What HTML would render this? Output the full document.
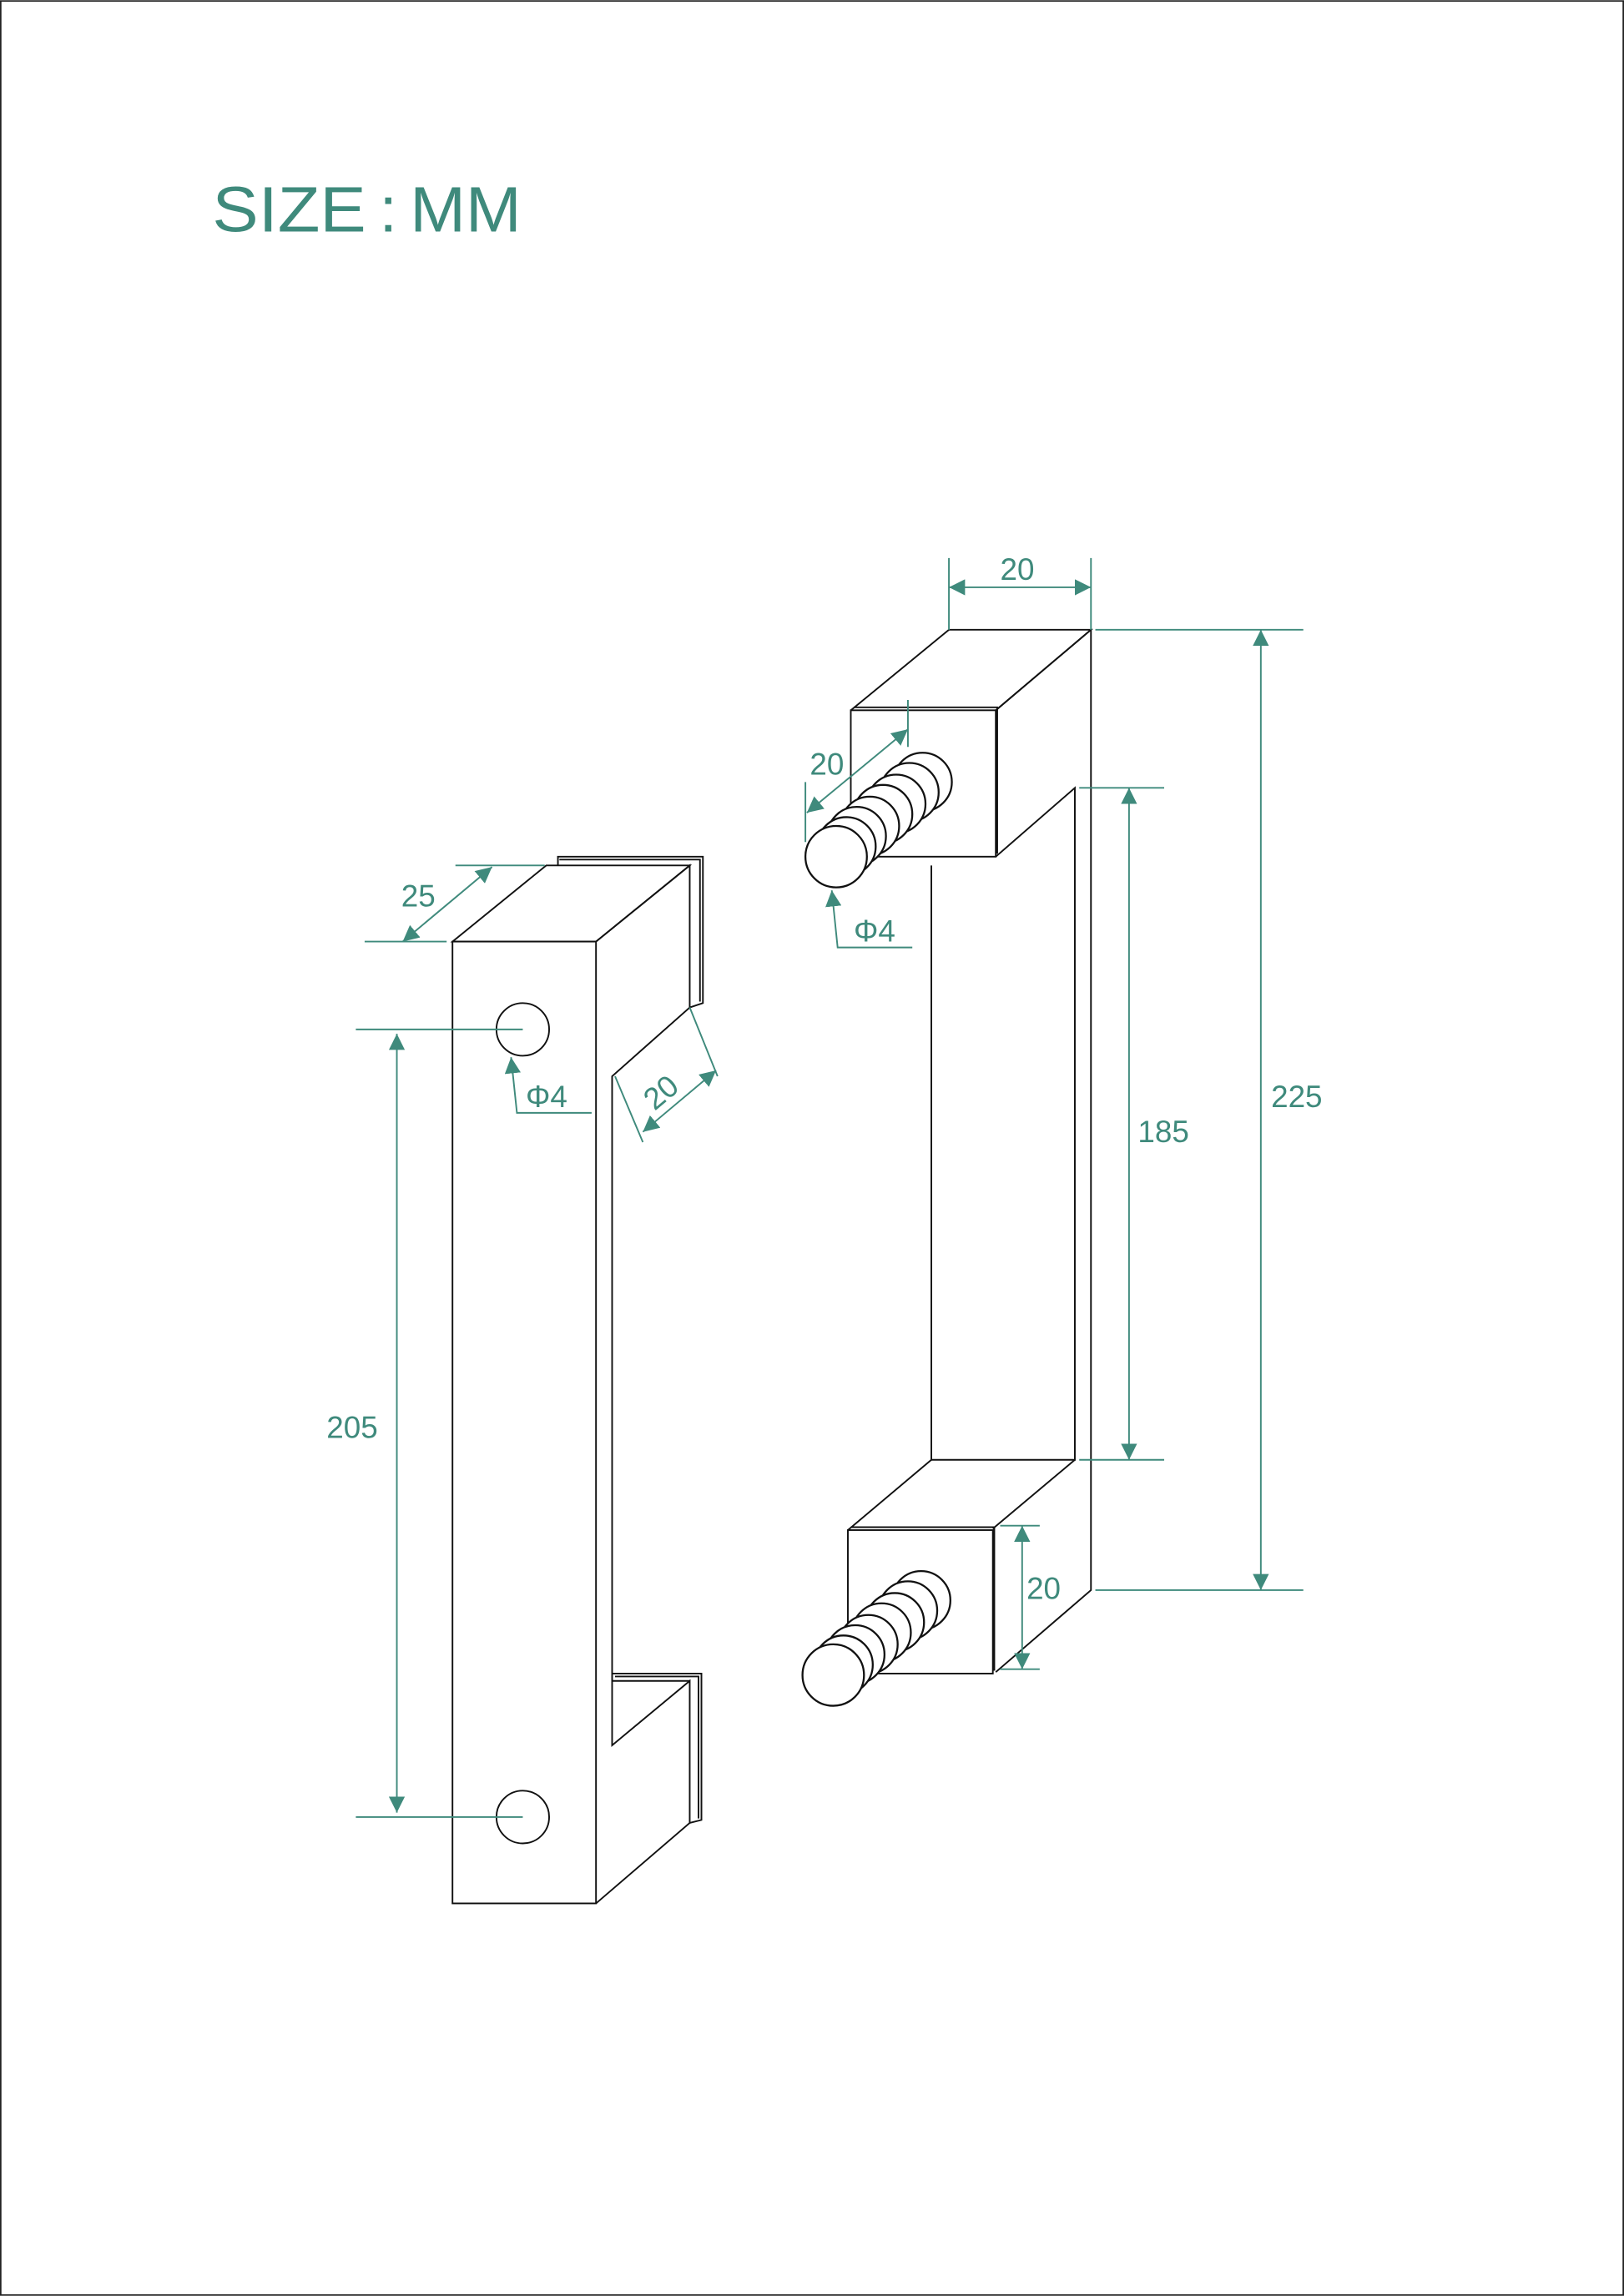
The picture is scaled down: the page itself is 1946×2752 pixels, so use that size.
<!DOCTYPE html>
<html><head><meta charset="utf-8"><style>
html,body{margin:0;padding:0;background:#fff}
svg{display:block}
text{font-family:"Liberation Sans",sans-serif;fill:#3f8a7c}
</style></head><body>
<svg width="1946" height="2752" viewBox="0 0 1109 1568" xmlns="http://www.w3.org/2000/svg">
<defs>
<marker id="a" viewBox="0 0 10 10" refX="10" refY="5" markerWidth="11" markerHeight="11" markerUnits="userSpaceOnUse" orient="auto-start-reverse"><path d="M0,0 L10,5 L0,10 z" fill="#3f8a7c"/></marker>
</defs>
<rect x="0.5" y="0.5" width="1108" height="1567" fill="#fff" stroke="#222" stroke-width="1"/>
<text x="145" y="158" font-size="44" textLength="105" lengthAdjust="spacingAndGlyphs">SIZE</text>
<text x="259" y="158" font-size="44">:</text>
<text x="280" y="158" font-size="44" textLength="76" lengthAdjust="spacingAndGlyphs">MM</text>

<g fill="none" stroke="#111" stroke-width="1.1">
<path d="M381,591 V585 H480 V685 L471,688"/>
<path d="M382,587 H478 V684"/>
<path d="M418,1148 V1143 H479 V1243 L471,1245"/>
<path d="M420,1145 H477 V1242"/>
<path fill="#fff" d="M309,643 L373,591 H471 L407,643 Z"/>
<rect x="309" y="643" width="98" height="657" fill="#fff"/>
<path d="M407,643 L471,591 V688 L418,735 V1192 L471,1148 V1245 L407,1300"/>
<path d="M418,1148 H471"/>
<circle cx="357" cy="703" r="18"/>
<circle cx="357" cy="1241" r="18"/>

<path d="M581,485 L648,430 H745 L680,485"/>
<path d="M583,483 H681 V583"/>
<rect x="581" y="485" width="99" height="100" fill="#fff"/>
<path d="M680,485 L745,430 V1086 L680,1142"/>
<path d="M680,585 L734,538 V997 H636 V591"/>
<path d="M579,1045 L636,997 M678,1044 L734,997"/>
<path d="M581,1043 H679 V1141"/>
<rect x="579" y="1045" width="99" height="98" fill="#fff"/>
</g>

<g fill="#fff" stroke="#111" stroke-width="1.3">
<circle cx="630" cy="534" r="20"/><circle cx="621" cy="541" r="20"/><circle cx="612" cy="549" r="20"/><circle cx="603" cy="556" r="20"/><circle cx="594" cy="564" r="20"/><circle cx="585" cy="571" r="20"/><circle cx="578" cy="578" r="20"/><circle cx="571" cy="585" r="21"/>
<circle cx="629" cy="1093" r="20"/><circle cx="620" cy="1100" r="20"/><circle cx="611" cy="1108" r="20"/><circle cx="602" cy="1115" r="20"/><circle cx="593" cy="1123" r="20"/><circle cx="584" cy="1130" r="20"/><circle cx="576" cy="1137" r="20"/><circle cx="569" cy="1144" r="21"/>
</g>

<g fill="none" stroke="#3f8a7c" stroke-width="1.1">
<path d="M243,703 H357 M243,1241 H357"/>
<path d="M271,706 V1238" marker-start="url(#a)" marker-end="url(#a)"/>
<path d="M249,643 H305 M311,591 H372"/>
<path d="M275,643 L336,592" marker-start="url(#a)" marker-end="url(#a)"/>
<path d="M404,760 H353 L349,722" marker-end="url(#a)"/>
<path d="M420,735 L439,780 M471,688 L490,735"/>
<path d="M439,773 L489,731" marker-start="url(#a)" marker-end="url(#a)"/>

<path d="M648,381 V430 M745,381 V430"/>
<path d="M648,401 H745" marker-start="url(#a)" marker-end="url(#a)"/>
<path d="M748,430 H890 M748,1086 H890"/>
<path d="M861,430 V1086" marker-start="url(#a)" marker-end="url(#a)"/>
<path d="M737,538 H795 M737,997 H795"/>
<path d="M771,538 V997" marker-start="url(#a)" marker-end="url(#a)"/>
<path d="M683,1042 H710 M683,1140 H710"/>
<path d="M698,1042 V1140" marker-start="url(#a)" marker-end="url(#a)"/>
<path d="M550,534 V575 M620,478 V510"/>
<path d="M551,555 L620,498" marker-start="url(#a)" marker-end="url(#a)"/>
<path d="M623,647 H572 L568,608" marker-end="url(#a)"/>
</g>
<g font-size="21">
<text x="223" y="982">205</text>
<text x="274" y="619">25</text>
<text x="359" y="756">Φ4</text>
<text transform="translate(447,759) rotate(-40)">20</text>
<text x="683" y="396">20</text>
<text x="868" y="756">225</text>
<text x="777" y="780">185</text>
<text x="701" y="1092">20</text>
<text x="553" y="529">20</text>
<text x="583" y="643">Φ4</text>
</g>
</svg>
</body></html>
